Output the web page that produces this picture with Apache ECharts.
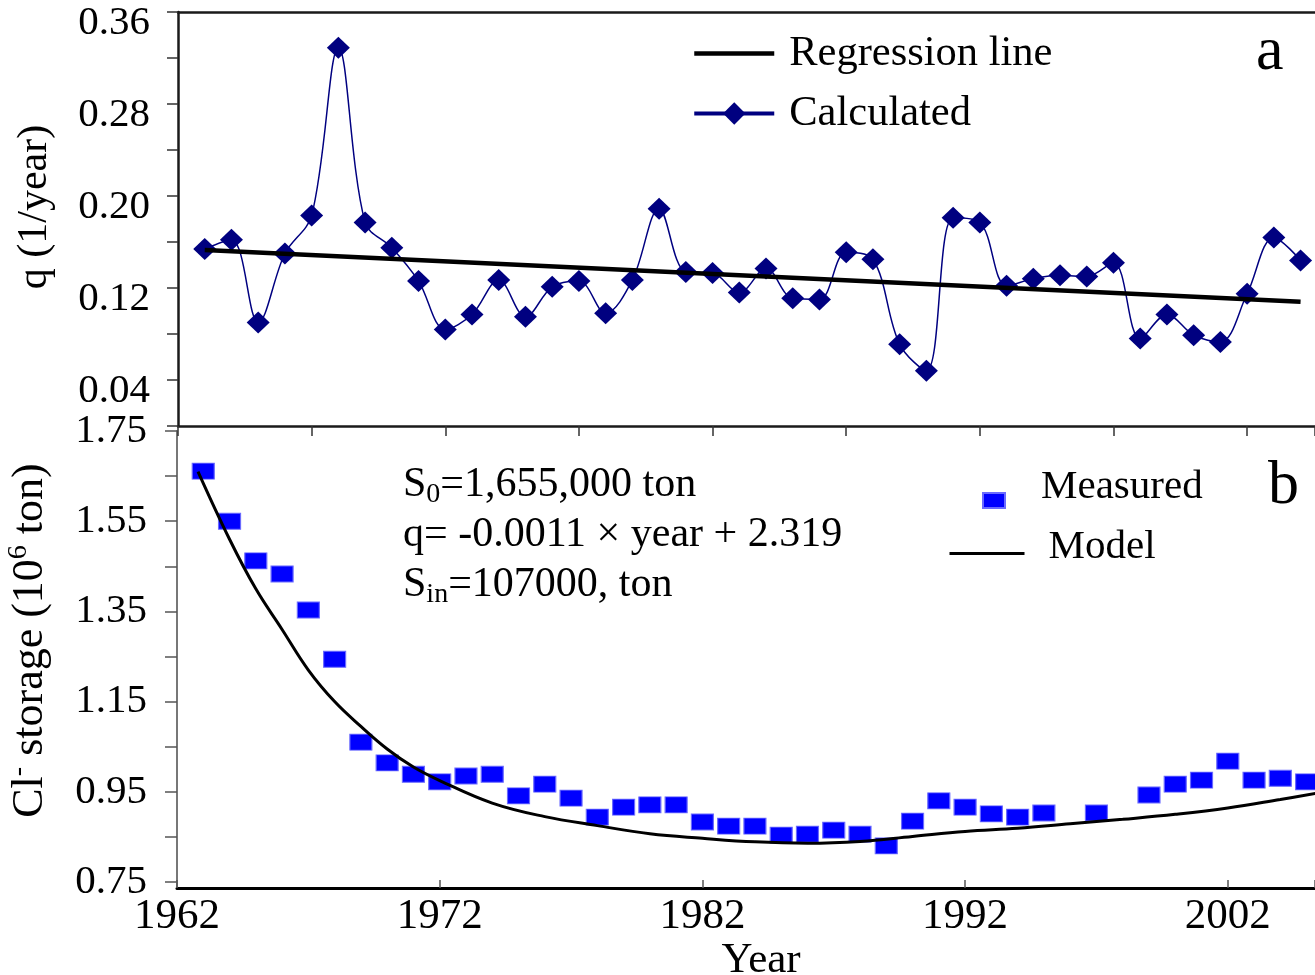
<!DOCTYPE html>
<html><head><meta charset="utf-8">
<script src="https://cdn.jsdelivr.net/npm/echarts@6/dist/echarts.min.js"></script>
<style>html,body{margin:0;padding:0;background:#fff}#c{width:1315px;height:975px}</style>
</head><body><div id="c"></div>
<script>
// ---- data ----
const calcYears = [1963,1964,1965,1966,1967,1968,1969,1970,1971,1972,
                   1973,1974,1975,1976,1977,1978,1979,1980,1981,1982,
                   1983,1984,1985,1986,1987,1988,1989,1990,1991,1992,
                   1993,1994,1995,1996,1997,1998,1999,2000,2001,2002,
                   2003,2004];
const calcValues = [0.154,0.162,0.090,0.150,0.183,0.329,0.177,0.155,0.126,0.084,
                    0.097,0.127,0.095,0.121,0.126,0.098,0.127,0.189,0.134,0.133,
                    0.116,0.137,0.111,0.110,0.151,0.145,0.071,0.048,0.181,0.177,
                    0.122,0.128,0.131,0.130,0.142,0.076,0.097,0.079,0.073,0.115,
                    0.164,0.144];
const regYears = [1963, 2004];
const regValues = [0.153, 0.108];

const measYears = [1963,1964,1965,1966,1967,1968,1969,1970,1971,1972,
                   1973,1974,1975,1976,1977,1978,1979,1980,1981,1982,
                   1983,1984,1985,1986,1987,1988,1989,1990,1991,1992,
                   1993,1994,1995,1997,1999,2000,2001,2002,2003,2004,2005];
const measValues = [1.661,1.550,1.462,1.433,1.353,1.244,1.060,1.014,0.989,0.972,
                    0.985,0.989,0.941,0.967,0.936,0.894,0.916,0.921,0.921,0.883,
                    0.874,0.874,0.854,0.856,0.865,0.856,0.830,0.885,0.930,0.916,
                    0.901,0.894,0.903,0.903,0.943,0.967,0.976,1.018,0.976,0.980,0.972];
const modelYears = [1962.8,1964,1965,1966,1967,1968,1969,1970,1971,1972,1974,1976,1978,
                    1980,1982,1984,1986,1988,1990,1992,1994,1996,1998,2000,2002,2004,2005.4];
const modelValues = [1.660,1.510,1.400,1.310,1.220,1.150,1.095,1.045,1.005,0.975,0.925,0.895,0.875,
                     0.857,0.847,0.839,0.836,0.840,0.851,0.862,0.869,0.879,0.889,0.900,0.914,0.933,0.947];

const qTickLabels = ['0.04','0.12','0.20','0.28','0.36'];
const storageTickLabels = ['0.75','0.95','1.15','1.35','1.55','1.75'];
const yearTickLabels = ['1962','1972','1982','1992','2002'];

const FONT = 'Liberation Serif';
const zip = (xs, ys) => xs.map((x, i) => [x, ys[i]]);

const chart = echarts.init(document.getElementById('c'), null, {renderer: 'canvas'});
const option = {
  backgroundColor: '#ffffff',
  animation: false,
  textStyle: {fontFamily: FONT, color: '#000'},
  grid: [
    {left: 178, top: 12, right: 0, height: 414, containLabel: false, outerBoundsMode: 'none'},
    {left: 177, top: 431, right: 0, height: 451, containLabel: false, outerBoundsMode: 'none'}
  ],
  xAxis: [
    {gridIndex: 0, type: 'value', min: 1962, max: 2004.54, interval: 5,
     axisLine: {show: true, lineStyle: {color: '#1a1a1a', width: 2.5}},
     axisTick: {show: true, inside: false, length: 10, lineStyle: {color: '#333', width: 1.5}},
     axisLabel: {show: false}, splitLine: {show: false}},
    {gridIndex: 1, type: 'value', min: 1962, max: 2005.32, interval: 10, offset: 6,
     axisLine: {show: true, lineStyle: {color: '#000', width: 3}},
     axisTick: {show: true, inside: true, length: 8, lineStyle: {color: '#555', width: 1.5}},
     axisLabel: {fontFamily: FONT, fontSize: 43, color: '#000', margin: 7,
       formatter: v => { const s = String(Math.round(v)); return (Math.abs(v - Math.round(v)) < 1e-6 && yearTickLabels.includes(s)) ? s : ''; }},
     splitLine: {show: false},
     name: 'Year', nameLocation: 'middle', nameGap: 49,
     nameTextStyle: {fontFamily: FONT, fontSize: 43, color: '#000', padding: [0, 0, 0, 30]}},
    {gridIndex: 0, type: 'value', position: 'top', min: 1962, max: 2004.54,
     axisLine: {show: true, lineStyle: {color: '#1a1a1a', width: 2.5}},
     axisTick: {show: false}, axisLabel: {show: false}, splitLine: {show: false}}
  ],
  yAxis: [
    {gridIndex: 0, type: 'value', min: 0, max: 0.36, interval: 0.04,
     axisLine: {show: true, lineStyle: {color: '#1a1a1a', width: 2.5}},
     axisTick: {show: true, length: 11, lineStyle: {color: '#333', width: 1.5}},
     axisLabel: {fontFamily: FONT, fontSize: 41, color: '#000', margin: 28, lineHeight: 22,
       formatter: v => { const s = v.toFixed(2); return qTickLabels.includes(s) ? '\n' + s : ''; }},
     splitLine: {show: false},
     name: 'q (1/year)', nameLocation: 'middle', nameRotate: 90, nameGap: 122,
     nameTextStyle: {fontFamily: FONT, fontSize: 42, color: '#000', padding: [0, 0, 0, 24]}},
    {gridIndex: 1, type: 'value', min: 0.75, max: 1.75, interval: 0.1,
     axisLine: {show: true, lineStyle: {color: '#777', width: 2}},
     axisTick: {show: true, length: 12, lineStyle: {color: '#555', width: 1.5}},
     axisLabel: {fontFamily: FONT, fontSize: 41, color: '#000', margin: 30,
       formatter: v => { const s = v.toFixed(2); return storageTickLabels.includes(s) ? s : ''; }},
     splitLine: {show: false},
     name: '{n|Cl}{s|-}{n| storage (10}{s|6}{n| ton)}', nameLocation: 'middle', nameRotate: 90, nameGap: 122,
     nameTextStyle: {fontFamily: FONT, fontSize: 44, color: '#000', padding: [0, 0, 0, 32],
       rich: {n: {fontFamily: FONT, fontSize: 44, color: '#000', lineHeight: 50, verticalAlign: 'middle'},
              s: {fontFamily: FONT, fontSize: 28, color: '#000', lineHeight: 28, verticalAlign: 'top'}}}}
  ],
  legend: [
    {data: [{name: 'Regression line', itemStyle: {opacity: 0}, lineStyle: {width: 4.5, color: '#000'}},
            {name: 'Calculated', lineStyle: {width: 4, color: '#000080'}}],
     orient: 'vertical', left: 692, top: 32, padding: 0, itemWidth: 80, itemHeight: 28, itemGap: 17, selectedMode: false,
     textStyle: {fontFamily: FONT, fontSize: 42.5, color: '#000', padding: [0, 0, 0, 10]}},
    {data: [{name: 'Measured'}], left: 982, top: 467, padding: 0, itemWidth: 22, itemHeight: 15, selectedMode: false,
     formatter: n => n + '\n',
     textStyle: {fontFamily: FONT, fontSize: 41, color: '#000', lineHeight: 26, padding: [0, 0, 0, 31]}},
    {data: [{name: 'Model', itemStyle: {opacity: 0}, lineStyle: {width: 3, color: '#000'}}],
     left: 948, top: 527, padding: 0, itemWidth: 75, itemHeight: 15, selectedMode: false,
     formatter: n => n + '\n',
     textStyle: {fontFamily: FONT, fontSize: 41, color: '#000', lineHeight: 12, padding: [0, 0, 0, 19]}}
  ],
  series: [
    {name: 'Calculated', type: 'line', xAxisIndex: 0, yAxisIndex: 0, data: zip(calcYears, calcValues),
     smooth: 0.35, symbol: 'diamond', symbolSize: [23, 22], showSymbol: true,
     lineStyle: {color: '#000080', width: 1.5}, itemStyle: {color: '#000080'}, z: 2},
    {name: 'Regression line', type: 'line', xAxisIndex: 0, yAxisIndex: 0, data: zip(regYears, regValues),
     symbol: 'none', lineStyle: {color: '#000', width: 4.5}, itemStyle: {color: '#000'}, z: 3},
    {name: 'Measured', type: 'scatter', xAxisIndex: 1, yAxisIndex: 1, data: zip(measYears, measValues),
     symbol: 'rect', symbolSize: [22, 16], itemStyle: {color: '#0000ff', borderColor: '#6a6aff', borderWidth: 1, opacity: 1}, z: 2},
    {name: 'Model', type: 'line', xAxisIndex: 1, yAxisIndex: 1, data: zip(modelYears, modelValues),
     smooth: 0.4, symbol: 'none', lineStyle: {color: '#000', width: 3}, itemStyle: {color: '#000'}, z: 3}
  ],
  graphic: [
    {type: 'line', shape: {x1: 177, y1: 880, x2: 177, y2: 889}, style: {stroke: '#777', lineWidth: 2}, silent: true},
    {type: 'text', left: 1256, top: 22, style: {text: 'a', font: '62px "Liberation Serif"', fill: '#000'}},
    {type: 'text', left: 1268, top: 456, style: {text: 'b', font: '62px "Liberation Serif"', fill: '#000'}},
    {type: 'text', x: 403, y: 485, style: {text: '{t|S}{sub|0}{t|=1,655,000 ton}', verticalAlign: 'middle', align: 'left',
      rich: {t: {fontFamily: FONT, fontSize: 42, fill: '#000', lineHeight: 48, verticalAlign: 'middle'},
             sub: {fontFamily: FONT, fontSize: 28, fill: '#000', lineHeight: 22, verticalAlign: 'bottom'}}}},
    {type: 'text', x: 403, y: 535, style: {text: 'q= -0.0011 \u00d7 year + 2.319', verticalAlign: 'middle', align: 'left',
      font: '42px "Liberation Serif"', fill: '#000'}},
    {type: 'text', x: 403, y: 585, style: {text: '{t|S}{sub|in}{t|=107000, ton}', verticalAlign: 'middle', align: 'left',
      rich: {t: {fontFamily: FONT, fontSize: 42, fill: '#000', lineHeight: 48, verticalAlign: 'middle'},
             sub: {fontFamily: FONT, fontSize: 28, fill: '#000', lineHeight: 22, verticalAlign: 'bottom'}}}}
  ]
};
chart.setOption(option);
</script></body></html>
